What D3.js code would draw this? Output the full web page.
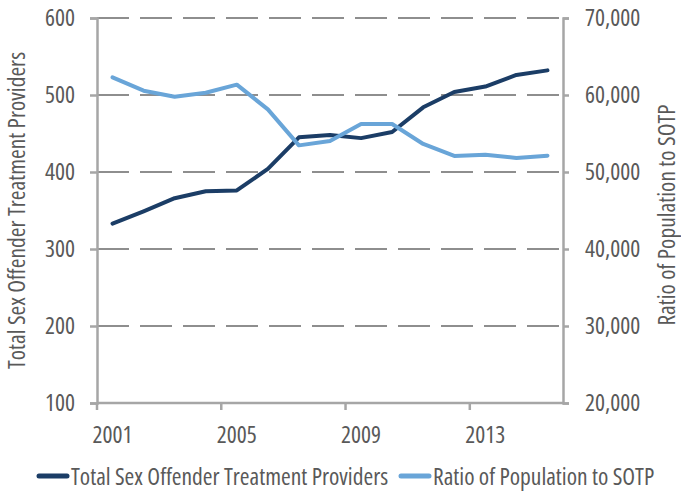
<!DOCTYPE html>
<html>
<head>
<meta charset="utf-8">
<script src="https://cdn.jsdelivr.net/npm/d3@7"></script>
<style>
body { margin: 0; background: #fff; }
svg text { font-family: "Open Sans", "DejaVu Sans", sans-serif; font-stretch: 75%; fill: #595959; }
</style>
</head>
<body>
<div></div>
<script>
var years = ['2001', '2002', '2003', '2004', '2005', '2006', '2007', '2008',
    '2009', '2010', '2011', '2012', '2013', '2014', '2015'];
var providers = [333, 349, 366, 375, 376, 404, 445, 448, 444, 452, 484, 504, 511, 526, 532];
var ratio = [62300, 60560, 59780, 60300, 61340, 58140, 53460, 54030,
    56230, 56230, 53640, 52080, 52250, 51820, 52120];
var leftTicks = [100, 200, 300, 400, 500, 600];
var rightTicks = [20000, 30000, 40000, 50000, 60000, 70000];
var yearLabels = ['2001', '2005', '2009', '2013'];

var width = 681;
var height = 492;
var plotLeft = 97, plotRight = 563, plotTop = 18, plotBottom = 403;
var fontSize = 23.5;

var svg = d3.select('div')
    .append('svg').attr('width', width).attr('height', height);

var x = d3.scaleBand().domain(years).range([plotLeft, plotRight]);
var yL = d3.scaleLinear().domain([100, 600]).range([plotBottom, plotTop]);
var yR = d3.scaleLinear().domain([20000, 70000]).range([plotBottom, plotTop]);

var darkColor = '#1b3d66';
var lightColor = '#69a5d8';
var axisColor = '#a6a6a6';

// dashed grid
svg.append('g')
    .selectAll('line')
    .data(leftTicks.slice(1))
    .enter()
    .append('line')
    .attr('x1', plotLeft).attr('x2', plotRight)
    .attr('y1', function (d) { return yL(d); })
    .attr('y2', function (d) { return yL(d); })
    .attr('stroke', '#8e8e8e')
    .attr('stroke-width', 2)
    .attr('stroke-dasharray', '32,11');

// left axis
var axL = svg.append('g')
    .attr('transform', 'translate(' + plotLeft + ',0)')
    .call(d3.axisLeft(yL).tickValues(leftTicks).tickSize(7).tickPadding(15));
// right axis
var axR = svg.append('g')
    .attr('transform', 'translate(' + plotRight + ',0)')
    .call(d3.axisRight(yR).tickValues(rightTicks).tickSize(6).tickPadding(16)
        .tickFormat(d3.format(',')));
// bottom axis, ticks on category boundaries every 4 years
var xTickPos = yearLabels.map(function (y) { return x(y); });
var axB = svg.append('g')
    .attr('transform', 'translate(0,' + plotBottom + ')');
axB.append('line')
    .attr('x1', plotLeft).attr('x2', plotRight)
    .attr('stroke', axisColor).attr('stroke-width', 2.5);
axB.selectAll('.tk')
    .data(xTickPos)
    .enter()
    .append('line')
    .attr('x1', function (d) { return d; })
    .attr('x2', function (d) { return d; })
    .attr('y1', 0).attr('y2', 7)
    .attr('stroke', axisColor).attr('stroke-width', 2.5);
axB.selectAll('text')
    .data(yearLabels)
    .enter()
    .append('text')
    .attr('x', function (d) { return x(d) + x.bandwidth() / 2; })
    .attr('y', 40)
    .attr('text-anchor', 'middle')
    .attr('font-size', fontSize)
    .text(function (d) { return d; });

[axL, axR].forEach(function (ax) {
    ax.select('.domain').attr('stroke', axisColor).attr('stroke-width', 2.5);
    ax.selectAll('.tick line').attr('stroke', axisColor).attr('stroke-width', 2.5);
    ax.selectAll('.tick text').attr('font-size', fontSize).style('fill', '#595959');
});

// lines
var lineL = d3.line()
    .x(function (d, i) { return x(years[i]) + x.bandwidth() / 2; })
    .y(function (d) { return yL(d); });
var lineR = d3.line()
    .x(function (d, i) { return x(years[i]) + x.bandwidth() / 2; })
    .y(function (d) { return yR(d); });

svg.append('path').datum(providers)
    .attr('d', lineL)
    .attr('fill', 'none').attr('stroke', darkColor)
    .attr('stroke-width', 4).attr('stroke-linecap', 'round').attr('stroke-linejoin', 'round');
svg.append('path').datum(ratio)
    .attr('d', lineR)
    .attr('fill', 'none').attr('stroke', lightColor)
    .attr('stroke-width', 4).attr('stroke-linecap', 'round').attr('stroke-linejoin', 'round');

// axis titles
svg.append('text')
    .attr('transform', 'translate(25,' + ((plotTop + plotBottom) / 2) + ') rotate(-90)')
    .attr('text-anchor', 'middle')
    .attr('font-size', fontSize)
    .text('Total Sex Offender Treatment Providers');
svg.append('text')
    .attr('transform', 'translate(675,' + 215 + ') rotate(-90)')
    .attr('text-anchor', 'middle')
    .attr('font-size', fontSize)
    .text('Ratio of Population to SOTP');

// legend
var legend = [
    { name: 'Total Sex Offender Treatment Providers', color: darkColor, x: 37 },
    { name: 'Ratio of Population to SOTP', color: lightColor, x: 399 }
];
var lg = svg.append('g').selectAll('g')
    .data(legend)
    .enter()
    .append('g')
    .attr('transform', function (d) { return 'translate(' + d.x + ',476)'; });
lg.append('line')
    .attr('x1', 2).attr('x2', 30)
    .attr('stroke', function (d) { return d.color; })
    .attr('stroke-width', 5).attr('stroke-linecap', 'round');
lg.append('text')
    .attr('x', 34).attr('y', 9)
    .attr('font-size', fontSize)
    .text(function (d) { return d.name; });
</script>
</body>
</html>
